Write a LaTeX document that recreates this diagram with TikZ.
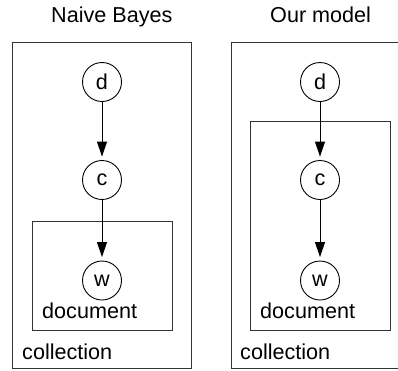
\documentclass[tikz,border=0pt]{standalone}
\usepackage{fontspec}
\setmainfont{Liberation Sans}
\usetikzlibrary{arrows.meta}
\begin{document}
\begin{tikzpicture}[x=1pt,y=-1pt,
  var/.style={circle,draw,line width=0.9pt,minimum size=39pt,inner sep=0pt,
    font=\fontsize{21.6}{24}\selectfont},
  edge/.style={line width=0.9pt,-{Triangle[length=15pt,width=10pt]},shorten >=3.5pt},
  plate/.style={draw,line width=1pt,black!80},
  lbl/.style={anchor=base west,inner sep=0pt,font=\fontsize{21.6}{24}\selectfont},
]
\useasboundingbox (0,0) rectangle (398,370);

% ---- left: Naive Bayes ----
\node[lbl] (t1) at (51,22) {Naive Bayes};
\coordinate (o1a) at (12.5,42);
\coordinate (o1b) at (191.5,368.5);
\draw[plate] (o1a) rectangle (o1b);
\coordinate (i1a) at (32,221);
\coordinate (i1b) at (172,330);
\draw[plate] (i1a) rectangle (i1b);
\node[var] (d1) at (102,82) {d};
\node[var] (c1) at (102,180) {c};
\node[var] (w1) at (102,280.5) {w};
\draw[edge] (d1) -- (c1);
\draw[edge] (c1) -- (w1);
\node[lbl] (doc1) at (42,318) {document};
\node[lbl] (col1) at (22,359) {collection};

% ---- right: our model ----
\node[lbl] (t2) at (270,22) {Our model};
\coordinate (o2a) at (231,42);
\coordinate (o2b) at (399,368.5);
\draw[plate] (o2a) rectangle (o2b);
\coordinate (i2a) at (250,121);
\coordinate (i2b) at (390,330);
\draw[plate] (i2a) rectangle (i2b);
\node[var] (d2) at (320,82) {d};
\node[var] (c2) at (320,180) {c};
\node[var] (w2) at (320,280.5) {w};
\draw[edge] (d2) -- (c2);
\draw[edge] (c2) -- (w2);
\node[lbl] (doc2) at (260,318) {document};
\node[lbl] (col2) at (240,359) {collection};
\end{tikzpicture}
\end{document}
